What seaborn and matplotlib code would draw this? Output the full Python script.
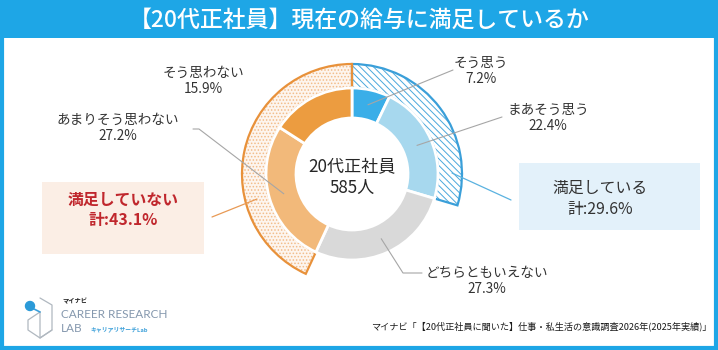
import numpy as np
import matplotlib
matplotlib.use("Agg")
import matplotlib.pyplot as plt
from matplotlib.patches import Rectangle, Circle
import seaborn as sns

# ---------------- data ----------------
inner_labels = ["そう思う", "まあそう思う", "どちらともいえない", "あまりそう思わない", "そう思わない"]
inner_values = [7.2, 22.4, 27.3, 27.2, 15.9]
inner_colors = ["#3aaee8", "#a7d8ee", "#d9d9d9", "#f2b97a", "#ec9c40"]

outer_labels = ["満足している", "", "満足していない"]
outer_values = [29.6, 27.3, 43.1]

title = "【20代正社員】現在の給与に満足しているか"
center_text = "20代正社員\n585人"
source_text = "マイナビ「【20代正社員に聞いた】仕事・私生活の意識調査2026年(2025年実績)」"

sns.set_theme(style="white")
plt.rcParams["font.family"] = ["Noto Sans CJK JP", "DejaVu Sans"]

W, H = 718, 350
fig = plt.figure(figsize=(W / 100, H / 100), dpi=100)
ax = fig.add_axes([0, 0, 1, 1])

CX, CY = 352, 174
R_IN, R_MID, R_OUT = 56, 86, 110

# inner ring (y axis inverted -> counterclock=True appears clockwise)
wedges, _ = ax.pie(inner_values, colors=inner_colors, startangle=-90, counterclock=True,
                   center=(CX, CY), radius=R_MID,
                   wedgeprops=dict(width=R_MID - R_IN, edgecolor="white", linewidth=2))

# outer ring: fill + hatch + outline
plt.rcParams["hatch.linewidth"] = 0.7
out_face = ["white", "none", "#fdf5ee"]
out_edge = ["#3a9fd9", "none", "#e8913a"]
hatch_col = ["#4aa8dc", "none", "#f2bc8a"]
hatches = ["\\\\\\\\\\", None, "....."]
w_fill, _ = ax.pie(outer_values, colors=out_face, startangle=-90, counterclock=True,
                   center=(CX, CY), radius=R_OUT,
                   wedgeprops=dict(width=R_OUT - R_MID, linewidth=0))
w_hatch, _ = ax.pie(outer_values, colors=["none"] * 3, startangle=-90, counterclock=True,
                    center=(CX, CY), radius=R_OUT,
                    wedgeprops=dict(width=R_OUT - R_MID, linewidth=0))
for w, hc, h in zip(w_hatch, hatch_col, hatches):
    if h is None:
        w.set_visible(False)
    else:
        w.set_hatch(h)
        w.set_edgecolor(hc)
        w.set_linewidth(0)
w_line, _ = ax.pie(outer_values, colors=["none"] * 3, startangle=-90, counterclock=True,
                   center=(CX, CY), radius=R_OUT,
                   wedgeprops=dict(width=R_OUT - R_MID, linewidth=1.6))
for w, ec in zip(w_line, out_edge):
    w.set_edgecolor(ec)
    w.set_facecolor("none")
    if ec == "none":
        w.set_visible(False)
w_fill[1].set_visible(False)
for w in wedges:
    w.set_zorder(3)

ax.set_xlim(0, W)
ax.set_ylim(H, 0)
ax.set_aspect("equal")
ax.axis("off")

# ---------------- frame & title ----------------
ax.add_patch(Rectangle((0, 0), W, 38, facecolor="#1ea6e6", edgecolor="none", zorder=0))
ax.add_patch(Rectangle((2, 2), W - 4, H - 4, facecolor="none", edgecolor="#1ea6e6",
                       linewidth=3, zorder=10))
ax.text(W / 2, 20, title, color="white", fontsize=16.5, ha="center", va="center",
        fontweight="medium")

# center text
ax.text(CX, 177, center_text, fontsize=12.3, ha="center", va="center", color="#262626",
        linespacing=1.25)

# ---------------- labels & leaders ----------------
def polar(pct, r):
    ang = np.deg2rad(pct * 3.6)
    return CX + r * np.sin(ang), CY - r * np.cos(ang)

cum = np.cumsum([0] + inner_values)
mids = [(cum[i] + cum[i + 1]) / 2 for i in range(len(inner_values))]
rm = (R_IN + R_MID) / 2
lc = "#a6a6a6"
txtc = "#333333"
fs = 9.8

label_pos = [(481, 71), (548, 118), (487, 281), (118, 128), (203, 81)]
leader_pts = [[(453, 70)], [(502, 117)], [(422, 273), (403, 273)], [(193, 129), (199, 129)], None]
for i, (lab, val) in enumerate(zip(inner_labels, inner_values)):
    x, y = label_pos[i]
    ax.text(x, y, f"{lab}\n{val}%", fontsize=fs, ha="center", va="center", color=txtc,
            linespacing=1.2)
    if leader_pts[i] is not None:
        sx, sy = polar(mids[i], rm)
        pts = leader_pts[i] + [(sx, sy)]
        ax.plot([p[0] for p in pts], [p[1] for p in pts], color=lc, lw=0.8, zorder=5)

# summary boxes
ax.add_patch(Rectangle((42, 182), 162, 72, facecolor="#fbeee5", edgecolor="none", zorder=1))
ax.text(123, 210, f"{outer_labels[2]}\n計:{outer_values[2]}%", fontsize=11.4, ha="center",
        va="center", color="#c0272d", fontweight="bold", linespacing=1.35)
ax.add_patch(Rectangle((519, 163), 181, 67, facecolor="#e3f1fa", edgecolor="none", zorder=1))
ax.text(600, 199, f"{outer_labels[0]}\n計:{outer_values[0]}%", fontsize=11.4, ha="center",
        va="center", color="#333333", linespacing=1.35)

ax.plot([452, 511], [173, 200], color="#5ab2e0", lw=0.9, zorder=5)
ax.plot([257, 212], [199, 217], color="#e89a55", lw=0.9, zorder=5)

# ---------------- footer ----------------
ax.text(712, 326, source_text, fontsize=6.6, ha="right", va="center", color="#1a1a1a")

# logo (approximation)
ax.plot([40, 52, 52, 40, 28, 28, 40], [298, 305, 330, 338, 330, 320, 312], color="#b0b8c0", lw=0.9)
ax.plot([40, 40, 52], [312, 338, 330], color="#b0b8c0", lw=0.9)
ax.plot([32, 40], [308, 312], color="#3aa0dc", lw=1.2)
ax.add_patch(Circle((30, 306), 4.5, color="#2b9ad8", zorder=6))
ax.text(62, 301, "マイナビ", fontsize=4.5, color="#222222", ha="left", va="center",
        fontweight="bold")
ax.text(61, 314, "CAREER RESEARCH", fontsize=8.5, color="#8598ae", ha="left", va="center",
        family=["Lato", "DejaVu Sans"])
ax.text(61, 329, "LAB", fontsize=8.5, color="#8598ae", ha="left", va="center",
        family=["Lato", "DejaVu Sans"])
ax.text(90, 329, "キャリアリサーチLab", fontsize=4.2, color="#3a9fd9", ha="left", va="center",
        fontweight="bold")

fig.savefig("out.png", dpi=100)
